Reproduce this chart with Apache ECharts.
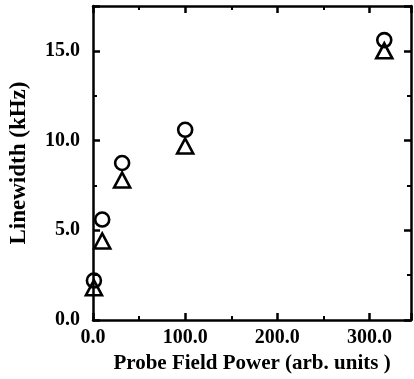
<!DOCTYPE html>
<html><head><meta charset="utf-8">
<script src="https://cdn.jsdelivr.net/npm/echarts@6/dist/echarts.min.js"></script>
<style>html,body{margin:0;padding:0;background:#fff}#c{width:414px;height:379px}</style>
</head><body><div id="c"></div>
<script>
const power = [1, 10, 31.6, 100, 316];
const circleWidth = [2.2, 5.6, 8.75, 10.6, 15.6];
const triangleWidth = [1.8, 4.4, 7.8, 9.7, 15.0];
const xTicks = [0, 100, 200, 300];
const yTicks = [0, 5, 10, 15];
const xTitle = 'Probe Field Power (arb. units )';
const yTitle = 'Linewidth (kHz)';

const font = 'Liberation Serif';
const chart = echarts.init(document.getElementById('c'));
const axisBase = {
  axisLine: {show: true, onZero: false, lineStyle: {color: '#000', width: 2.5}},
  axisTick: {show: true, inside: true, length: 7, lineStyle: {color: '#000', width: 2.5}},
  minorTick: {show: true, splitNumber: 2, length: 4, lineStyle: {color: '#000', width: 2}},
  splitLine: {show: false}
};
chart.setOption({
  animation: false,
  grid: {left: 92, right: 2, top: 6, bottom: 59, containLabel: false},
  xAxis: [
    Object.assign({}, axisBase, {type: 'value', min: 0, max: 345, interval: 100, position: 'bottom',
      axisLabel: {color: '#000', fontFamily: font, fontWeight: 'bold', fontSize: 20, margin: 8,
        formatter: v => xTicks.includes(v) ? v.toFixed(1) : ''},
      name: xTitle, nameLocation: 'middle', nameGap: 23,
      nameTextStyle: {color: '#000', fontFamily: font, fontWeight: 'bold', fontSize: 21}}),
    Object.assign({}, axisBase, {type: 'value', min: 0, max: 345, interval: 100, position: 'top',
      axisLabel: {show: false}})
  ],
  yAxis: [
    Object.assign({}, axisBase, {type: 'value', min: 0, max: 17.5, interval: 5, position: 'left',
      axisLabel: {color: '#000', fontFamily: font, fontWeight: 'bold', fontSize: 20, margin: 13,
        formatter: v => yTicks.includes(v) ? v.toFixed(1) : ''},
      name: yTitle, nameLocation: 'middle', nameGap: 62,
      nameTextStyle: {color: '#000', fontFamily: font, fontWeight: 'bold', fontSize: 23}}),
    Object.assign({}, axisBase, {type: 'value', min: 0, max: 17.5, interval: 5, position: 'right',
      axisLabel: {show: false}})
  ],
  series: [
    {type: 'scatter', symbol: 'circle', symbolSize: 14,
      data: power.map((x, i) => [x, circleWidth[i]]),
      itemStyle: {color: 'rgba(255,255,255,0)', borderColor: '#000', borderWidth: 2.6, opacity: 1}},
    {type: 'scatter', symbol: 'triangle', symbolSize: [16, 15],
      data: power.map((x, i) => [x, triangleWidth[i]]),
      itemStyle: {color: 'rgba(255,255,255,0)', borderColor: '#000', borderWidth: 2.6, opacity: 1}}
  ]
});
</script></body></html>
